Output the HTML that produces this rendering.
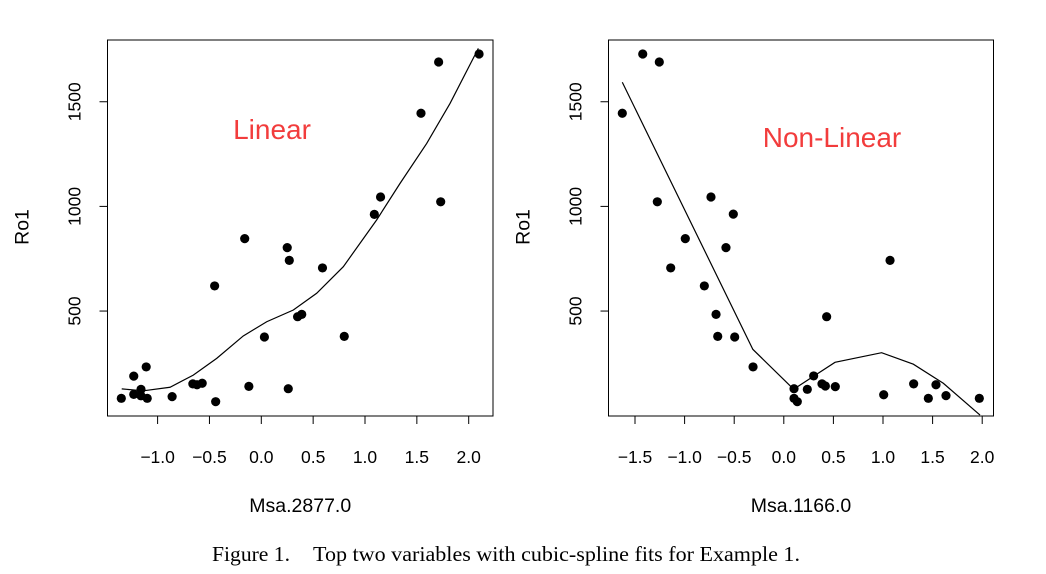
<!DOCTYPE html>
<html><head><meta charset="utf-8">
<style>
body{margin:0;background:#fff;width:1046px;height:574px;overflow:hidden}
svg{display:block;font-family:"Liberation Sans",sans-serif}
</style></head>
<body>
<svg id="fig" width="1046" height="574" viewBox="0 0 1046 574">
<text y="561" font-family="Liberation Serif,serif" font-size="21"><tspan x="212" textLength="78" lengthAdjust="spacingAndGlyphs">Figure 1.</tspan><tspan x="313" textLength="487" lengthAdjust="spacingAndGlyphs">Top two variables with cubic-spline fits for Example 1.</tspan></text>
</svg>
<script>
const leftX=[-1.35,-1.23,-1.23,-1.16,-1.11,-1.10,-1.16,-0.86,-0.66,-0.62,-0.57,-0.44,-0.45,-0.16,-0.12,0.03,0.25,0.27,0.26,0.35,0.39,0.59,0.80,1.09,1.15,1.54,1.71,1.73,2.10];
const leftY=[83,102,189,126,233,83,95,91,152,148,155,67,620,846,140,376,803,742,129,473,484,706,379,962,1045,1445,1690,1022,1728];
const leftFitX=[-1.346,-1.138,-0.880,-0.656,-0.430,-0.174,0.052,0.309,0.534,0.791,1.112,1.338,1.595,1.820,2.093];
const leftFitY=[128,119,136,194,274,381,449,505,585,712,935,1110,1301,1492,1755];
const rightX=[-1.628,-1.422,-1.255,-1.275,-0.993,-1.140,-0.801,-0.734,-0.509,-0.583,-0.683,-0.666,-0.495,-0.310,0.103,0.103,0.136,0.237,0.301,0.385,0.419,0.432,0.519,1.007,1.071,1.309,1.457,1.534,1.635,1.971];
const rightY=[1445,1728,1690,1022,846,706,620,1045,963,803,484,379,376,233,129,83,67,126,190,152,142,473,139,100,742,152,83,148,96,83];
const rightFitX=[-1.628,-0.312,0.070,0.130,0.516,0.986,1.306,1.608,1.978];
const rightFitY=[1593,317,140,136,255,301,246,155,3];
const leftTicks=[-1.0,-0.5,0.0,0.5,1.0,1.5,2.0];
const rightTicks=[-1.5,-1.0,-0.5,0.0,0.5,1.0,1.5,2.0];
const yTicks=[500,1000,1500];

const NS="http://www.w3.org/2000/svg";
const svg=document.getElementById('fig');
function mk(tag,attrs,parent){const e=document.createElementNS(NS,tag);for(const k in attrs)e.setAttribute(k,attrs[k]);(parent||svg).appendChild(e);return e;}
const fmt=v=>(v<0?"\u2212":"")+Math.abs(v).toFixed(1);

function panel(p){
  const g=mk('g',{});
  
  
  const sx=v=>p.x0+v*p.ux, sy=v=>415.7-v*0.2093;
  const box=mk('rect',{x:p.bx0,y:40,width:p.bx1-p.bx0,height:376,fill:'none',stroke:'#000','stroke-width':1},g);
  
  
  p.ticks.forEach(t=>{
    const X=sx(t);
    const l=mk('line',{x1:X,x2:X,y1:416,y2:424,stroke:'#000'},g);
    
    
    const tx=mk('text',{x:X,y:463,'text-anchor':'middle','font-size':17.5},g);
    tx.textContent=fmt(t);
    
    
  });
  yTicks.forEach(t=>{
    const Y=sy(t);
    const l=mk('line',{x1:p.bx0-8,x2:p.bx0,y1:Y,y2:Y,stroke:'#000'},g);
    
    
    const tx=mk('text',{x:0,y:0,'text-anchor':'middle','font-size':17.5,transform:`translate(${p.bx0-27},${Y}) rotate(-90)`},g);
    tx.textContent=t;
    
    
  });
  const xt=mk('text',{x:(p.bx0+p.bx1)/2,y:512,'text-anchor':'middle','font-size':19.5},g);
  xt.textContent=p.xlab;
  
  
  const yt=mk('text',{x:0,y:0,'text-anchor':'middle','font-size':19.5,transform:`translate(${p.bx0-79},227) rotate(-90)`},g);
  yt.textContent='Ro1';
  
  
  const lab=mk('text',{x:p.lx,y:p.ly,'text-anchor':'middle','font-size':28,fill:'#f23c3c'},g);
  lab.textContent=p.label;
  
  
  const path=mk('polyline',{points:p.fx.map((v,i)=>sx(v)+','+sy(p.fy[i])).join(' '),fill:'none',stroke:'#000','stroke-width':1.2},g);
  
  
  p.px.forEach((v,i)=>{
    const c=mk('circle',{cx:sx(v),cy:sy(p.py[i]),r:4.6,fill:'#000'},g);
    
    
  });
}
panel({name:'left-panel',x0:261.3,ux:103.7,bx0:107.5,bx1:493,ticks:leftTicks,xlab:'Msa.2877.0',label:'Linear',lx:272,ly:139,px:leftX,py:leftY,fx:leftFitX,fy:leftFitY});
panel({name:'right-panel',x0:783.8,ux:99.2,bx0:608.5,bx1:993.5,ticks:rightTicks,xlab:'Msa.1166.0',label:'Non-Linear',lx:832,ly:147,px:rightX,py:rightY,fx:rightFitX,fy:rightFitY});
</script>
</body></html>
